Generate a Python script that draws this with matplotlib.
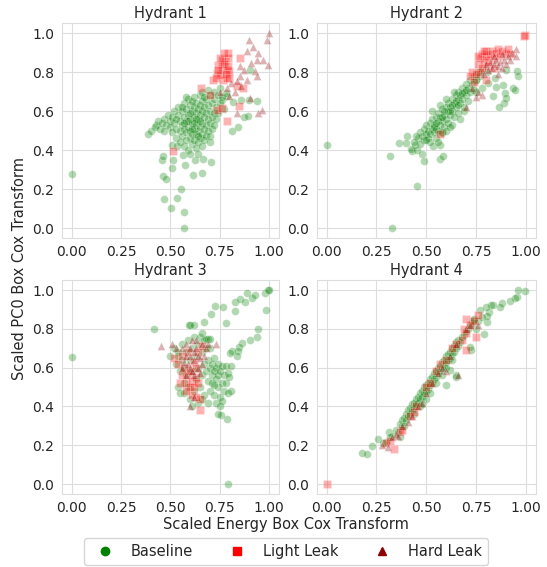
import matplotlib
matplotlib.use("Agg")
import matplotlib.pyplot as plt
import seaborn as sns
from matplotlib.lines import Line2D

sns.set_style("whitegrid")
plt.rcParams['font.family'] = ['DejaVu Sans']

titles = ["Hydrant 1", "Hydrant 2", "Hydrant 3", "Hydrant 4"]
classes = ["Baseline", "Light Leak", "Hard Leak"]
class_colors = ["green", "red", "darkred"]
class_markers = ["o", "s", "^"]
x_ticks = [0.00, 0.25, 0.50, 0.75, 1.00]
y_ticks = [0.0, 0.2, 0.4, 0.6, 0.8, 1.0]

h1_baseline = [
    (0.00, 0.277), (0.385, 0.482), (0.43, 0.526), (0.456, 0.347), (0.465, 0.368), (0.461, 0.268),
    (0.478, 0.251), (0.468, 0.15), (0.502, 0.103), (0.532, 0.154), (0.552, 0.20), (0.569, 0.082),
    (0.569, 0.00), (0.51, 0.308), (0.515, 0.35), (0.574, 0.321), (0.613, 0.27), (0.66, 0.28),
    (0.704, 0.338), (0.664, 0.354), (0.627, 0.35), (0.566, 0.376), (0.51, 0.427), (0.532, 0.419),
    (0.814, 0.50), (0.845, 0.52), (0.873, 0.57), (0.895, 0.573), (0.9375, 0.65), (0.90, 0.658),
    (0.86, 0.658), (0.818, 0.646), (0.904, 0.808), (0.785, 0.675), (0.76, 0.658),
    (0.40, 0.50), (0.42, 0.52), (0.44, 0.55), (0.45, 0.51), (0.46, 0.54), (0.47, 0.56), (0.48, 0.53),
    (0.47, 0.50), (0.49, 0.58), (0.50, 0.55), (0.50, 0.52), (0.51, 0.57), (0.51, 0.49), (0.52, 0.60),
    (0.52, 0.54), (0.53, 0.51), (0.53, 0.46), (0.54, 0.58), (0.54, 0.62), (0.55, 0.55), (0.55, 0.50),
    (0.55, 0.44), (0.56, 0.60), (0.56, 0.53), (0.56, 0.47), (0.57, 0.64), (0.57, 0.57), (0.57, 0.51),
    (0.57, 0.42), (0.58, 0.61), (0.58, 0.55), (0.58, 0.49), (0.58, 0.45), (0.59, 0.66), (0.59, 0.58),
    (0.59, 0.52), (0.59, 0.40), (0.60, 0.63), (0.60, 0.56), (0.60, 0.50), (0.60, 0.46), (0.61, 0.60),
    (0.61, 0.54), (0.61, 0.48), (0.61, 0.43), (0.62, 0.67), (0.62, 0.62), (0.62, 0.57), (0.62, 0.51),
    (0.62, 0.45), (0.63, 0.64), (0.63, 0.59), (0.63, 0.53), (0.63, 0.48), (0.63, 0.41), (0.64, 0.61),
    (0.64, 0.56), (0.64, 0.50), (0.64, 0.44), (0.65, 0.68), (0.65, 0.63), (0.65, 0.58), (0.65, 0.52),
    (0.65, 0.46), (0.66, 0.65), (0.66, 0.60), (0.66, 0.54), (0.66, 0.48), (0.66, 0.42), (0.67, 0.62),
    (0.67, 0.57), (0.67, 0.51), (0.67, 0.45), (0.68, 0.66), (0.68, 0.59), (0.68, 0.53), (0.68, 0.47),
    (0.69, 0.63), (0.69, 0.56), (0.69, 0.50), (0.70, 0.68), (0.70, 0.60), (0.70, 0.54), (0.70, 0.47),
    (0.71, 0.64), (0.71, 0.57), (0.71, 0.51), (0.72, 0.66), (0.72, 0.59), (0.72, 0.53), (0.73, 0.62),
    (0.73, 0.56), (0.74, 0.68), (0.74, 0.59), (0.75, 0.64), (0.76, 0.67), (0.77, 0.61), (0.78, 0.69),
    (0.60, 0.38), (0.64, 0.38), (0.56, 0.62), (0.53, 0.56), (0.66, 0.70), (0.69, 0.71), (0.72, 0.70),
    (0.75, 0.72), (0.70, 0.44), (0.58, 0.67), (0.61, 0.65), (0.67, 0.67), (0.59, 0.55), (0.62, 0.54),
    (0.64, 0.47), (0.60, 0.59), (0.63, 0.56), (0.65, 0.55), (0.57, 0.54), (0.61, 0.51),
]
h1_light = [
    (0.718, 0.76), (0.735, 0.795), (0.76, 0.82), (0.777, 0.855), (0.794, 0.872), (0.76, 0.863),
    (0.743, 0.838), (0.785, 0.812), (0.80, 0.803), (0.765, 0.76), (0.785, 0.77), (0.75, 0.786),
    (0.794, 0.897), (0.655, 0.718), (0.70, 0.684), (0.735, 0.607), (0.76, 0.615), (0.785, 0.547),
    (0.85, 0.627), (0.512, 0.393), (0.853, 0.872), (0.866, 0.72), (0.836, 0.73), (0.77, 0.84),
    (0.78, 0.79), (0.74, 0.81), (0.79, 0.83), (0.75, 0.87), (0.77, 0.90), (0.80, 0.77), (0.73, 0.77),
]
h1_hard = [
    (1.00, 1.00), (0.988, 0.966), (0.90, 0.962), (0.92, 0.93), (0.946, 0.897), (0.968, 0.863),
    (0.997, 0.838), (0.9375, 0.863), (0.887, 0.906), (0.907, 0.846), (0.929, 0.803), (0.9375, 0.778),
    (0.873, 0.812), (0.853, 0.778), (0.836, 0.752), (0.86, 0.726), (0.887, 0.761), (0.828, 0.70),
    (0.80, 0.675), (0.836, 0.59), (0.946, 0.59), (0.963, 0.607), (0.904, 0.667), (0.81, 0.744),
    (0.785, 0.718), (0.75, 0.70), (0.853, 0.829),
]

h2_baseline = [
    (0.00, 0.427), (0.33, 0.00), (0.318, 0.371), (0.452, 0.214), (0.363, 0.436), (0.405, 0.47),
    (0.401, 0.436), (0.431, 0.393), (0.423, 0.405), (0.452, 0.402), (0.477, 0.381), (0.488, 0.342),
    (0.535, 0.419), (0.569, 0.427), (0.569, 0.354), (0.585, 0.371), (0.577, 0.487), (0.443, 0.427),
    (0.903, 0.812), (0.957, 0.803), (0.961, 0.778), (0.936, 0.718), (0.945, 0.709), (0.886, 0.735),
    (0.853, 0.723), (0.895, 0.692), (0.903, 0.667), (0.89, 0.641), (0.866, 0.62), (0.836, 0.675),
    (0.811, 0.744), (0.778, 0.718), (0.803, 0.798), (0.845, 0.769), (0.752, 0.761), (0.752, 0.70),
    (0.46, 0.46), (0.47, 0.49), (0.48, 0.47), (0.49, 0.51), (0.49, 0.45), (0.50, 0.48), (0.50, 0.53),
    (0.51, 0.46), (0.51, 0.50), (0.52, 0.54), (0.52, 0.48), (0.53, 0.51), (0.53, 0.56), (0.54, 0.49),
    (0.54, 0.53), (0.55, 0.57), (0.55, 0.51), (0.56, 0.55), (0.56, 0.59), (0.56, 0.50), (0.57, 0.53),
    (0.57, 0.57), (0.58, 0.61), (0.58, 0.55), (0.59, 0.52), (0.59, 0.58), (0.60, 0.62), (0.60, 0.56),
    (0.61, 0.60), (0.61, 0.64), (0.61, 0.54), (0.62, 0.58), (0.62, 0.62), (0.63, 0.66), (0.63, 0.60),
    (0.64, 0.57), (0.64, 0.64), (0.65, 0.68), (0.65, 0.62), (0.66, 0.66), (0.66, 0.70), (0.66, 0.59),
    (0.67, 0.64), (0.67, 0.68), (0.68, 0.72), (0.68, 0.66), (0.69, 0.70), (0.69, 0.62), (0.70, 0.74),
    (0.70, 0.68), (0.71, 0.72), (0.71, 0.65), (0.72, 0.76), (0.72, 0.70), (0.73, 0.74), (0.74, 0.78),
    (0.74, 0.71), (0.75, 0.76), (0.76, 0.80), (0.77, 0.78), (0.78, 0.81), (0.52, 0.44), (0.55, 0.46),
    (0.58, 0.49), (0.60, 0.50), (0.63, 0.53), (0.67, 0.56), (0.47, 0.43), (0.45, 0.47), (0.53, 0.60),
    (0.57, 0.63), (0.60, 0.66), (0.64, 0.70), (0.62, 0.52), (0.69, 0.60), (0.56, 0.44), (0.50, 0.45),
    (0.44, 0.44), (0.54, 0.52), (0.58, 0.57), (0.62, 0.60), (0.65, 0.65), (0.68, 0.69), (0.55, 0.54),
    (0.59, 0.60), (0.63, 0.63), (0.66, 0.63), (0.70, 0.71),
]
h2_light = [
    (0.76, 0.84), (0.77, 0.87), (0.78, 0.89), (0.79, 0.85), (0.80, 0.88), (0.80, 0.91), (0.81, 0.86),
    (0.82, 0.89), (0.78, 0.82), (0.76, 0.88), (0.83, 0.91), (0.84, 0.87), (0.85, 0.90), (0.86, 0.92),
    (0.87, 0.88), (0.88, 0.91), (0.90, 0.90), (0.91, 0.92), (0.92, 0.89), (0.79, 0.91), (0.77, 0.80),
    (0.81, 0.83), (0.995, 0.99), (0.99, 0.985), (0.73, 0.80), (0.72, 0.78), (0.75, 0.79), (0.80, 0.76),
    (0.84, 0.82), (0.57, 0.48), (0.74, 0.75),
]
h2_hard = [
    (0.80, 0.84), (0.82, 0.85), (0.84, 0.84), (0.85, 0.86), (0.83, 0.82), (0.86, 0.83), (0.87, 0.85),
    (0.88, 0.82), (0.89, 0.86), (0.90, 0.84), (0.91, 0.88), (0.93, 0.90), (0.95, 0.92), (0.95, 0.88),
    (0.92, 0.86), (0.81, 0.81), (0.79, 0.79), (0.86, 0.79), (0.75, 0.67), (0.78, 0.68), (0.76, 0.70),
    (0.70, 0.62), (0.73, 0.72), (0.88, 0.89), (0.84, 0.88),
]

h3_baseline = [
    (0.00, 0.657), (0.417, 0.798), (0.794, 0.00), (0.596, 0.82), (0.67, 0.837), (0.704, 0.876),
    (0.728, 0.918), (0.769, 0.911), (0.782, 0.832), (0.828, 0.894), (0.828, 0.94), (0.853, 0.952),
    (0.877, 0.94), (0.89, 0.983), (0.912, 0.957), (0.929, 0.974), (0.98, 0.983), (0.997, 1.00),
    (1.00, 1.00), (0.985, 0.897), (0.946, 0.798), (0.938, 0.76), (0.904, 0.743), (0.861, 0.726),
    (0.85, 0.708), (0.845, 0.683), (0.84, 0.66), (0.814, 0.688), (0.802, 0.674), (0.54, 0.66),
    (0.785, 0.334), (0.757, 0.357),
    (0.50, 0.66), (0.52, 0.70), (0.53, 0.62), (0.54, 0.68), (0.54, 0.50), (0.55, 0.58), (0.55, 0.47),
    (0.56, 0.72), (0.56, 0.64), (0.57, 0.60), (0.57, 0.47), (0.58, 0.68), (0.58, 0.56), (0.59, 0.74),
    (0.59, 0.50), (0.60, 0.64), (0.60, 0.44), (0.61, 0.70), (0.61, 0.58), (0.62, 0.76), (0.62, 0.48),
    (0.63, 0.66), (0.63, 0.54), (0.64, 0.72), (0.64, 0.60), (0.64, 0.42), (0.65, 0.76), (0.65, 0.50),
    (0.66, 0.68), (0.66, 0.56), (0.67, 0.74), (0.67, 0.62), (0.67, 0.46), (0.68, 0.58), (0.68, 0.70),
    (0.69, 0.53), (0.69, 0.64), (0.69, 0.75), (0.70, 0.60), (0.70, 0.48), (0.70, 0.70), (0.71, 0.56),
    (0.71, 0.62), (0.71, 0.52), (0.72, 0.58), (0.72, 0.46), (0.72, 0.65), (0.73, 0.60), (0.73, 0.54),
    (0.73, 0.42), (0.74, 0.56), (0.74, 0.50), (0.74, 0.62), (0.75, 0.58), (0.75, 0.45), (0.75, 0.40),
    (0.76, 0.52), (0.76, 0.61), (0.76, 0.43), (0.77, 0.56), (0.77, 0.48), (0.78, 0.61), (0.78, 0.52),
    (0.79, 0.57), (0.79, 0.47), (0.80, 0.55), (0.81, 0.48), (0.81, 0.61), (0.74, 0.36), (0.60, 0.82),
    (0.62, 0.82), (0.68, 0.75), (0.70, 0.75), (0.66, 0.78), (0.57, 0.52), (0.61, 0.40), (0.66, 0.44),
    (0.69, 0.42), (0.72, 0.51),
]
h3_light = [
    (0.52, 0.65), (0.54, 0.62), (0.56, 0.66), (0.57, 0.60), (0.58, 0.52), (0.59, 0.56), (0.60, 0.50),
    (0.61, 0.53), (0.62, 0.50), (0.63, 0.55), (0.64, 0.52), (0.65, 0.44), (0.65, 0.38), (0.63, 0.45),
    (0.60, 0.58), (0.62, 0.63), (0.64, 0.68), (0.66, 0.71), (0.59, 0.68), (0.61, 0.46), (0.58, 0.48),
    (0.56, 0.56), (0.55, 0.52), (0.63, 0.60),
]
h3_hard = [
    (0.455, 0.71), (0.51, 0.72), (0.53, 0.70), (0.56, 0.70), (0.58, 0.72), (0.60, 0.70), (0.60, 0.66),
    (0.62, 0.64), (0.64, 0.60), (0.60, 0.60), (0.62, 0.68), (0.66, 0.72), (0.68, 0.70), (0.73, 0.72),
    (0.58, 0.56), (0.62, 0.56), (0.64, 0.66), (0.66, 0.62), (0.60, 0.40), (0.57, 0.63), (0.59, 0.62),
    (0.61, 0.58), (0.63, 0.70), (0.65, 0.65), (0.67, 0.66), (0.69, 0.72), (0.58, 0.66), (0.61, 0.74),
    (0.63, 0.74), (0.56, 0.60), (0.65, 0.57), (0.62, 0.45),
]

h4_baseline = [
    (0.176, 0.159), (0.204, 0.156), (0.226, 0.198), (0.259, 0.232), (0.284, 0.21), (0.313, 0.27),
    (0.298, 0.219), (0.368, 0.244), (0.957, 0.962), (0.998, 0.997), (0.962, 1.00), (0.945, 0.959),
    (0.92, 0.945), (0.883, 0.932), (0.87, 0.911), (0.836, 0.923), (0.823, 0.925), (0.816, 0.885),
    (0.80, 0.911), (0.769, 0.897), (0.736, 0.843), (0.803, 0.834), (0.803, 0.868), (0.789, 0.771),
    (0.727, 0.689), (0.719, 0.706), (0.652, 0.561), (0.649, 0.553), (0.597, 0.509), (0.619, 0.586),
    (0.35, 0.28), (0.36, 0.27), (0.37, 0.31), (0.38, 0.30), (0.38, 0.33), (0.39, 0.34), (0.40, 0.33),
    (0.40, 0.36), (0.41, 0.35), (0.41, 0.38), (0.42, 0.36), (0.42, 0.39), (0.43, 0.38), (0.43, 0.41),
    (0.44, 0.39), (0.44, 0.42), (0.45, 0.41), (0.45, 0.44), (0.46, 0.42), (0.46, 0.45), (0.47, 0.44),
    (0.47, 0.47), (0.48, 0.45), (0.48, 0.48), (0.49, 0.47), (0.49, 0.50), (0.50, 0.48), (0.50, 0.51),
    (0.51, 0.49), (0.51, 0.52), (0.52, 0.51), (0.52, 0.54), (0.53, 0.52), (0.53, 0.55), (0.54, 0.54),
    (0.54, 0.57), (0.55, 0.55), (0.55, 0.58), (0.56, 0.57), (0.56, 0.60), (0.57, 0.58), (0.57, 0.61),
    (0.58, 0.60), (0.58, 0.63), (0.59, 0.61), (0.59, 0.64), (0.60, 0.63), (0.60, 0.66), (0.61, 0.64),
    (0.61, 0.67), (0.62, 0.65), (0.62, 0.68), (0.63, 0.67), (0.63, 0.70), (0.64, 0.68), (0.64, 0.71),
    (0.65, 0.70), (0.65, 0.73), (0.66, 0.71), (0.66, 0.74), (0.67, 0.73), (0.68, 0.76), (0.69, 0.77),
    (0.70, 0.79), (0.71, 0.80), (0.72, 0.82), (0.73, 0.83), (0.74, 0.85), (0.52, 0.47), (0.55, 0.52),
    (0.47, 0.40), (0.44, 0.36), (0.58, 0.56), (0.50, 0.44), (0.48, 0.41), (0.60, 0.60), (0.63, 0.64),
    (0.33, 0.25), (0.32, 0.24), (0.39, 0.30), (0.75, 0.80), (0.76, 0.84), (0.78, 0.86),
]
h4_light = [
    (0.00, 0.00), (0.34, 0.18), (0.37, 0.27), (0.38, 0.28), (0.42, 0.35), (0.44, 0.37), (0.45, 0.40),
    (0.50, 0.50), (0.52, 0.52), (0.55, 0.58), (0.57, 0.62), (0.60, 0.64), (0.69, 0.80), (0.70, 0.78),
    (0.72, 0.82), (0.75, 0.76), (0.74, 0.84), (0.76, 0.87), (0.70, 0.69), (0.68, 0.74), (0.65, 0.72),
    (0.63, 0.70), (0.70, 0.85), (0.30, 0.21), (0.32, 0.22),
]
h4_hard = [
    (0.28, 0.20), (0.31, 0.19), (0.33, 0.24), (0.35, 0.26), (0.36, 0.25), (0.38, 0.30), (0.41, 0.32),
    (0.43, 0.35), (0.46, 0.40), (0.48, 0.42), (0.50, 0.47), (0.53, 0.52), (0.56, 0.57), (0.58, 0.60),
    (0.60, 0.58), (0.66, 0.56), (0.62, 0.66), (0.65, 0.72), (0.70, 0.80), (0.76, 0.82), (0.72, 0.82),
]

panels = [
    [h1_baseline, h1_light, h1_hard],
    [h2_baseline, h2_light, h2_hard],
    [h3_baseline, h3_light, h3_hard],
    [h4_baseline, h4_light, h4_hard],
]

text_color = "#262626"
fig = plt.figure(figsize=(5.47, 5.67), dpi=100)
W, H = 547.0, 567.0
boxes = [
    (61.8, 23.3, 217.0, 214.5),
    (316.7, 23.3, 219.0, 214.5),
    (61.8, 280.3, 217.0, 213.4),
    (316.7, 280.3, 219.0, 213.4),
]
for title, series, (l, t, w, h) in zip(titles, panels, boxes):
    ax = fig.add_axes([l / W, 1 - (t + h) / H, w / W, h / H])
    for pts, col, mk in zip(series, class_colors, class_markers):
        xs = [p[0] for p in pts]
        ys = [p[1] for p in pts]
        ax.scatter(xs, ys, s=32, c=col, marker=mk, alpha=0.3,
                   edgecolors="white", linewidths=0.5, zorder=3)
    ax.set_xlim(-0.05, 1.05)
    ax.set_ylim(-0.05, 1.05)
    ax.set_xticks(x_ticks)
    ax.set_xticklabels([f"{v:.2f}" for v in x_ticks])
    ax.set_yticks(y_ticks)
    ax.set_yticklabels([f"{v:.1f}" for v in y_ticks])
    ax.tick_params(labelsize=10, colors=text_color, pad=2)
    ax.set_title(title, fontsize=10.5, color=text_color, pad=4)
    ax.grid(True, color="#dddddd", linewidth=0.8)
    for sp in ax.spines.values():
        sp.set_color("#dddddd")

fig.text(0.522, 1 - 525 / H, "Scaled Energy Box Cox Transform", ha="center", va="center",
         fontsize=10.5, color=text_color)
fig.text(0.036, 1 - 268 / H, "Scaled PC0 Box Cox Transform", ha="center", va="center",
         rotation=90, fontsize=10.5, color=text_color)

handles = [Line2D([0], [0], marker=m, color="none", markerfacecolor=c, markeredgecolor=c,
                  markersize=6, linestyle="none") for c, m in zip(class_colors, class_markers)]
leg = fig.legend(handles, classes, loc="lower center", bbox_to_anchor=(0.5226, 0.0035),
                 borderaxespad=0.0, ncol=3, fontsize=10.5, frameon=True, columnspacing=2.0,
                 handletextpad=0.78, borderpad=0.4, fancybox=True)
for t in leg.get_texts():
    t.set_color(text_color)
leg.get_frame().set_edgecolor("#cccccc")

fig.savefig("out.png", dpi=100)
